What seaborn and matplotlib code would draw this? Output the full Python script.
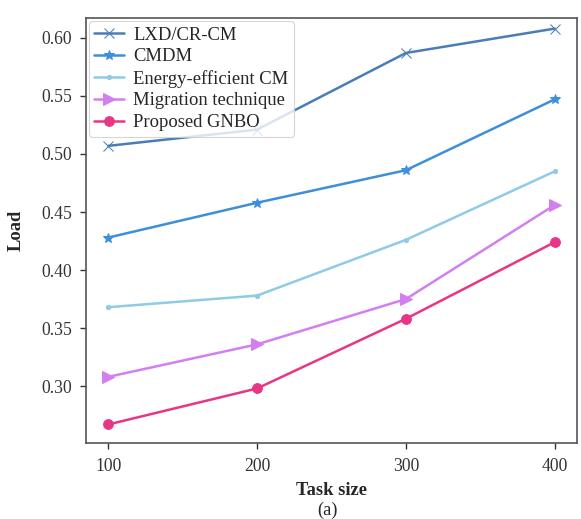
import matplotlib
matplotlib.use("Agg")
import matplotlib.pyplot as plt
import seaborn as sns
import pandas as pd

task_size = [100, 200, 300, 400]
lxd = [0.507, 0.521, 0.587, 0.608]
cmdm = [0.428, 0.458, 0.486, 0.547]
energy = [0.368, 0.378, 0.426, 0.485]
migration = [0.308, 0.336, 0.375, 0.456]
gnbo = [0.267, 0.298, 0.358, 0.424]

series_names = ["LXD/CR-CM", "CMDM", "Energy-efficient CM", "Migration technique", "Proposed GNBO"]
series_vals = [lxd, cmdm, energy, migration, gnbo]
colors = ["#4a7db8", "#3d8fd8", "#8fcbe6", "#d27ff0", "#e83585"]
markers = ["x", "*", ".", ">", "o"]
msizes = [7, 7, 6, 8, 7]

sns.set_theme(style="ticks")
plt.rcParams['font.family'] = ['Liberation Serif', 'DejaVu Serif']

fig = plt.figure(figsize=(5.81, 5.19), dpi=100)
ax = fig.add_axes([0.148, 0.1464, 0.845, 0.8186])

for name, vals, c, m, ms in zip(series_names, series_vals, colors, markers, msizes):
    df = pd.DataFrame({"x": task_size, "y": vals})
    sns.lineplot(data=df, x="x", y="y", ax=ax, color=c, marker=m, markersize=ms,
                 markeredgecolor=c, linewidth=1.8, label=name)

ax.set_xlim(85, 415)
ax.set_ylim(0.251, 0.617)
ax.set_xticks(task_size)
ax.set_yticks([0.30, 0.35, 0.40, 0.45, 0.50, 0.55, 0.60])
ax.set_yticklabels([f"{v:.2f}" for v in [0.30, 0.35, 0.40, 0.45, 0.50, 0.55, 0.60]])
ax.tick_params(labelsize=12.7, colors="#333333", length=4, width=1)
ax.tick_params(axis="x", pad=7)
ax.tick_params(axis="y", pad=6)
for sp in ax.spines.values():
    sp.set_color("#555555")
    sp.set_linewidth(1.2)
ax.set_xlabel("Task size", fontsize=13.3, fontweight="bold", labelpad=5)
ax.set_ylabel("Load", fontsize=13.3, fontweight="bold", labelpad=12)
fig.text(0.5635, 0.008, "(a)", ha="center", fontsize=13.3)

leg = ax.legend(loc="upper left", fontsize=13.4, frameon=True, borderaxespad=0.15,
                handlelength=1.6, labelspacing=0.25, borderpad=0.3, handletextpad=0.5)
leg.get_frame().set_edgecolor("#cccccc")
leg.get_frame().set_linewidth(0.8)

fig.savefig("out.png", dpi=100)
